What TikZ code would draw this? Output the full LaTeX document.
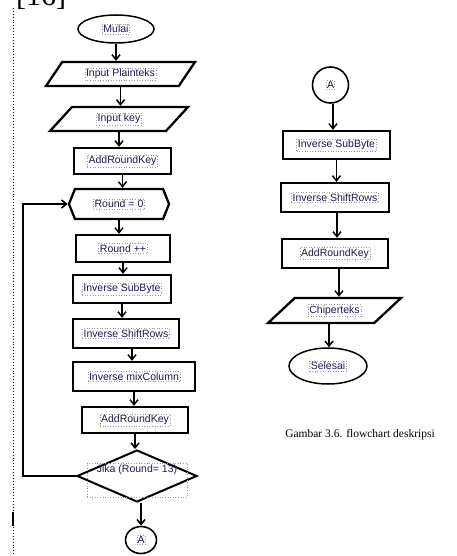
\documentclass[tikz,border=0pt]{standalone}
\usepackage{fontspec}
\setmainfont{Liberation Sans}
\newfontfamily\serifcap{Liberation Serif}
\usetikzlibrary{shapes.geometric,shapes.symbols,arrows.meta}
\definecolor{labelcol}{RGB}{28,28,80}

\begin{document}
\begin{tikzpicture}[x=1pt,y=-1pt,
  frame/.style={draw=black, line width=2.3pt, fill=white, inner sep=0pt},
  procbox/.style={frame, rectangle},
  iobox/.style={frame, trapezium, text height=12pt, text depth=12pt},
  termbox/.style={draw=black, line width=1.5pt, fill=white, ellipse, inner sep=0pt},
  connbox/.style={draw=black, line width=1.6pt, fill=white, ellipse, inner sep=0pt},
  lbl/.style={draw=gray!80, dotted, line width=0.6pt, inner sep=1.2pt,
    font=\fontsize{10.5}{12}\selectfont, text=labelcol},
  arr/.style={line width=1.9pt, -{Straight Barb[length=5pt,width=8pt,line width=1.5pt]}}
]
\useasboundingbox (0,0) rectangle (457,556);
\clip (0,0) rectangle (457,556);

% reference number above, cut off at the top edge
\node[anchor=base west, inner sep=0pt, font=\serifcap\fontsize{30}{30}\selectfont] (refno) at (16,6) {[16]};

% margin rule on the left
\draw[dotted, line width=0.9pt] (13,8) -- (13,556);
\draw[line width=1.3pt] (13,512) -- (13,526);

% ---------------- left column ----------------
\node[termbox, minimum width=76pt, minimum height=28pt] (mulai) at (116,29) {};
\node[lbl] (tmulai) at (mulai) {Mulai};

\node[iobox, trapezium left angle=56, trapezium right angle=124,
      text width=116.6pt] (plain) at (120.5,74) {};
\node[lbl] (tplain) at (plain) {Input Plainteks};

\node[iobox, trapezium left angle=47.5, trapezium right angle=132.5,
      text width=94pt] (key) at (119,119) {};
\node[lbl] (tkey) at (key) {Input key};

\node[procbox, minimum width=97pt, minimum height=26pt] (ark1) at (122.5,161) {};
\node[lbl] (tark1) at (ark1) {AddRoundKey};

\node[frame, signal, signal to=east and west, signal pointer angle=136,
      text width=88pt, text height=15pt, text depth=15pt] (hex) at (119,204) {};
\node[lbl] (thex) at (hex) {Round = 0};

\node[procbox, minimum width=94pt, minimum height=27pt] (rpp) at (123,248.5) {};
\node[lbl] (trpp) at (rpp) {Round ++};

\node[procbox, minimum width=98pt, minimum height=28pt] (isb) at (122,289) {};
\node[lbl] (tisb) at (isb) {Inverse SubByte};

\node[procbox, minimum width=106pt, minimum height=29pt] (isr) at (126,333.5) {};
\node[lbl] (tisr) at (isr) {Inverse ShiftRows};

\node[procbox, minimum width=122pt, minimum height=29pt] (imc) at (134,376.5) {};
\node[lbl] (timc) at (imc) {Inverse mixColumn};

\node[procbox, minimum width=106pt, minimum height=26pt] (ark2) at (135,420) {};
\node[lbl] (tark2) at (ark2) {AddRoundKey};

\node[frame, diamond, line width=2pt, fill=none, minimum width=120pt, minimum height=52pt, aspect=2.3] (dia) at (137,476) {};
\node[lbl, text height=8pt, text depth=24pt, minimum width=100pt] (tdia) at (137,480) {Jika (Round= 13)};

\node[connbox, minimum width=31pt, minimum height=27pt] (conA) at (141,540) {};
\node[lbl, inner sep=0.6pt] (tconA) at (conA) {A};

\coordinate (loopx) at (23,0);

\draw[arr] (mulai.south) -- (mulai.south |- plain.north);
\draw[arr] (plain.south) -- (plain.south |- key.north);
\draw[arr] (key.south) -- (key.south |- ark1.north);
\draw[arr] (ark1.south) -- (ark1.south |- hex.north);
\draw[arr] (hex.south) -- (hex.south |- rpp.north);
\draw[arr] (rpp.south) -- (rpp.south |- isb.north);
\draw[arr] (isb.south) -- (isb.south |- isr.north);
\draw[arr] ([xshift=6pt]isr.south) -- ([xshift=6pt]isr.south |- imc.north);
\draw[arr] (imc.south) -- (imc.south |- ark2.north);
\draw[arr] (ark2.south) -- (ark2.south |- dia.north);
\draw[arr] ([xshift=4pt]dia.south) -- ([xshift=4pt]dia.south |- conA.north);
\draw[arr] (dia.west) -| (loopx |- hex.west) -- (hex.west);

% ---------------- right column ----------------
\node[connbox, minimum width=36pt, minimum height=36pt] (conB) at (330.5,85) {};
\node[lbl, inner sep=0.6pt] (tconB) at (conB) {A};

\node[procbox, minimum width=107pt, minimum height=28pt] (isb2) at (336.5,145) {};
\node[lbl] (tisb2) at (isb2) {Inverse SubByte};

\node[procbox, minimum width=108pt, minimum height=29pt] (isr2) at (335,197.5) {};
\node[lbl] (tisr2) at (isr2) {Inverse ShiftRows};

\node[procbox, minimum width=106pt, minimum height=29pt] (ark3) at (335,253.5) {};
\node[lbl] (tark3) at (ark3) {AddRoundKey};

\node[iobox, trapezium left angle=43, trapezium right angle=137,
      text width=79.4pt, text height=12.5pt, text depth=12.5pt] (chip) at (334.5,310.5) {};
\node[lbl] (tchip) at (chip) {Chiperteks};

\node[termbox, minimum width=78pt, minimum height=36pt] (sel) at (328,366) {};
\node[lbl] (tsel) at (sel) {Selesai};

\draw[arr] ([xshift=2.5pt]conB.south) -- ([xshift=2.5pt]conB.south |- isb2.north);
\draw[arr] (isb2.south) -- (isb2.south |- isr2.north);
\draw[arr] ([xshift=2pt]isr2.south) -- ([xshift=2pt]isr2.south |- ark3.north);
\draw[arr] ([xshift=4pt]ark3.south) -- ([xshift=4pt]ark3.south |- chip.north);
\draw[arr] ([xshift=-5.5pt]chip.south) -- ([xshift=-5.5pt]chip.south |- sel.north);

\node[font=\serifcap\fontsize{11.5}{13}\selectfont, inner sep=0pt] (caption) at (360,435) {Gambar 3.6. flowchart deskripsi};
\end{tikzpicture}
\end{document}
